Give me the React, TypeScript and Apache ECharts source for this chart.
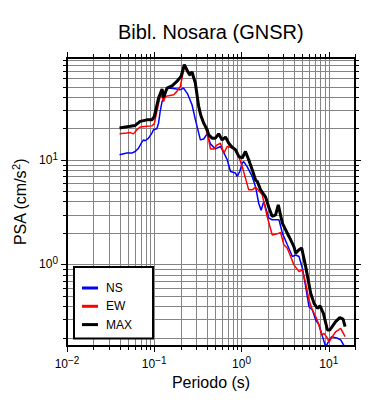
import React, { useEffect, useRef } from 'react';
import * as echarts from 'echarts';

const FONT = 'Liberation Sans, Arial, Helvetica, sans-serif';

const chartTitle = 'Bibl. Nosara (GNSR)';
const xAxisName = 'Periodo (s)';
const yAxisName = 'PSA (cm/s{sup|2})';
const seriesNames = ['NS', 'EW', 'MAX'];
const seriesColors = ['#0000ff', '#ff0000', '#000000'];

// NS component
const nsT = [0.040, 0.0485, 0.0554, 0.0605, 0.066, 0.0723, 0.0754, 0.0788, 0.086, 0.094, 0.098, 0.107, 0.112, 0.117, 0.123, 0.128, 0.134, 0.146, 0.174, 0.199, 0.217, 0.242, 0.271, 0.296, 0.338, 0.369, 0.404, 0.441, 0.502, 0.574, 0.627, 0.686, 0.748, 0.853, 0.893, 0.955, 1.02, 1.06, 1.16, 1.33, 1.45, 1.58, 1.68, 1.80, 2.06, 2.25, 2.69, 2.94, 3.35, 3.83, 4.18, 4.56, 4.99, 5.44, 5.94, 6.50, 7.10, 7.75, 8.48, 9.24, 9.93, 10.8, 12.6, 13.7, 14.8, 15.4];
const nsV = [11.2, 11.6, 11.6, 12.0, 12.9, 14.8, 15.5, 15.2, 16.1, 18.0, 19.4, 19.8, 22.4, 29.0, 36.1, 38.0, 45.0, 48.5, 47.8, 46.8, 48.5, 42.4, 33.6, 24.2, 15.5, 15.8, 17.7, 14.2, 12.7, 13.4, 11.7, 10.0, 7.73, 7.47, 6.92, 7.73, 9.3, 9.6, 8.6, 6.9, 5.5, 3.8, 3.3, 4.0, 2.77, 2.67, 2.67, 1.99, 1.54, 1.19, 1.23, 1.19, 0.92, 0.614, 0.394, 0.367, 0.294, 0.264, 0.204, 0.163, 0.183, 0.204, 0.197, 0.19, 0.17, 0.16];

// EW component
const ewT = [0.040, 0.0485, 0.053, 0.0578, 0.0632, 0.069, 0.0824, 0.094, 0.100, 0.107, 0.112, 0.119, 0.128, 0.134, 0.146, 0.167, 0.182, 0.199, 0.208, 0.221, 0.242, 0.255, 0.271, 0.296, 0.323, 0.353, 0.385, 0.421, 0.441, 0.481, 0.526, 0.574, 0.627, 0.686, 0.781, 0.853, 0.931, 1.02, 1.11, 1.21, 1.33, 1.45, 1.58, 1.73, 1.97, 2.25, 2.57, 2.81, 3.06, 3.35, 3.66, 3.99, 4.56, 4.99, 5.44, 5.94, 6.50, 7.10, 7.62, 8.32, 8.83, 9.42, 10.1, 11.0, 12.0, 13.7, 15.4];
const ewV = [17.7, 18.0, 18.2, 17.7, 19.4, 20.6, 20.9, 21.1, 22.1, 28.8, 34.4, 42.8, 36.1, 40.4, 40.9, 41.9, 45.1, 50.2, 60.5, 78, 68, 63.5, 67, 52.7, 31.8, 24.2, 20.7, 15.5, 12.7, 12.7, 13.9, 14.4, 11.6, 13.4, 13.0, 12.3, 10.7, 8.6, 6.68, 5.16, 5.16, 5.48, 5.05, 4.62, 2.87, 1.91, 1.96, 2.02, 1.54, 1.43, 1.19, 0.99, 0.853, 0.885, 0.661, 0.457, 0.367, 0.316, 0.273, 0.211, 0.219, 0.204, 0.182, 0.204, 0.227, 0.245, 0.204];

// MAX (rotated maximum)
const maxT = [0.040, 0.053, 0.0605, 0.069, 0.0824, 0.094, 0.100, 0.112, 0.123, 0.128, 0.140, 0.160, 0.179, 0.203, 0.221, 0.242, 0.255, 0.271, 0.296, 0.323, 0.340, 0.369, 0.404, 0.421, 0.460, 0.502, 0.548, 0.600, 0.655, 0.715, 0.781, 0.853, 0.931, 1.02, 1.11, 1.21, 1.33, 1.45, 1.52, 1.65, 1.89, 2.06, 2.25, 2.46, 2.64, 2.94, 3.50, 3.99, 4.18, 4.56, 4.90, 5.44, 6.21, 6.78, 7.41, 7.94, 8.69, 9.66, 10.3, 12.0, 13.4, 14.6, 15.4];
const maxV = [20.1, 20.9, 21.3, 23.3, 24.1, 24.1, 25.9, 38.9, 47.5, 39.5, 48.5, 51, 55.5, 62.7, 81, 70, 65, 69, 54, 32.4, 27, 22.4, 19.4, 17.3, 16.1, 16.1, 17.7, 15.5, 16.5, 14.4, 13.2, 12.5, 10.8, 10.4, 12.0, 10.0, 8.0, 6.4, 6.2, 5.2, 4.4, 3.5, 2.87, 2.98, 3.71, 2.48, 1.85, 1.48, 1.28, 1.38, 1.43, 0.953, 0.53, 0.425, 0.381, 0.401, 0.341, 0.236, 0.236, 0.284, 0.31, 0.30, 0.254];

// axis ranges and log grid (mantissa x decade)
const xMin = 0.01;
const xMax = 20;
const yMin = 0.166;
const yMax = 94;
const mantissas = [1, 2, 3, 4, 5, 6, 7, 8, 9];
const xDecades = [0.01, 0.1, 1, 10];
const yDecades = [0.1, 1, 10];

const logGrid = (decades: number[], lo: number, hi: number) => {
  const out: number[] = [];
  decades.forEach((d) => mantissas.forEach((m) => {
    const v = +(m * d).toPrecision(6);
    if (v >= lo * 0.9999 && v <= hi * 1.0001) out.push(v);
  }));
  return out;
};

const isDecade = (v: number) => {
  const l = Math.log10(v);
  return Math.abs(l - Math.round(l)) < 1e-6;
};

const decadeLabel = (v: number) => {
  if (!isDecade(v)) return '';
  const n = Math.round(Math.log10(v));
  return '10{sup|' + (n < 0 ? '\u2212' + -n : String(n)) + '}';
};

const zip = (t: number[], v: number[]) => t.map((x, i) => [x, v[i]]);

export default function App() {
  const ref = useRef<HTMLDivElement>(null);
  useEffect(() => {
    if (!ref.current) return;
    const chart = echarts.init(ref.current, null, { renderer: 'svg' });
    const xGrid = logGrid(xDecades, xMin, xMax);
    const yGrid = logGrid(yDecades, yMin, yMax);
    const gridColor = '#858585';

    const vLines = (params: any, api: any) => {
      const cs = params.coordSys;
      const v = api.value(0);
      const p = api.coord([v, 1]);
      const x = Math.round(p[0]) + 0.5;
      const len = isDecade(v) ? 6 : 4;
      const top = cs.y;
      const bottom = cs.y + cs.height;
      return {
        type: 'group',
        children: [
          { type: 'line', shape: { x1: x, y1: top, x2: x, y2: bottom }, style: { stroke: gridColor, lineWidth: 1 } },
          { type: 'line', shape: { x1: x, y1: top - len, x2: x, y2: top }, style: { stroke: '#000', lineWidth: 1 } },
          { type: 'line', shape: { x1: x, y1: bottom, x2: x, y2: bottom + len }, style: { stroke: '#000', lineWidth: 1 } },
        ],
      };
    };
    const hLines = (params: any, api: any) => {
      const cs = params.coordSys;
      const v = api.value(1);
      const p = api.coord([1, v]);
      const y = Math.round(p[1]) + 0.5;
      const len = isDecade(v) ? 6 : 4;
      const left = cs.x;
      const right = cs.x + cs.width;
      return {
        type: 'group',
        children: [
          { type: 'line', shape: { x1: left, y1: y, x2: right, y2: y }, style: { stroke: gridColor, lineWidth: 1 } },
          { type: 'line', shape: { x1: left - len, y1: y, x2: left, y2: y }, style: { stroke: '#000', lineWidth: 1 } },
          { type: 'line', shape: { x1: right, y1: y, x2: right + len, y2: y }, style: { stroke: '#000', lineWidth: 1 } },
        ],
      };
    };
    const frame = (params: any) => {
      const cs = params.coordSys;
      return {
        type: 'rect',
        shape: { x: cs.x, y: cs.y, width: cs.width, height: cs.height },
        style: { fill: 'none', stroke: '#000', lineWidth: 2 },
      };
    };

    const supRich = { sup: { fontSize: 10, fontFamily: FONT, color: '#000', padding: [0, 0, 7, 0] } };
    const data = [zip(nsT, nsV), zip(ewT, ewV), zip(maxT, maxV)];
    const widths = [1.5, 1.5, 3];

    chart.setOption({
      animation: false,
      backgroundColor: '#fff',
      title: {
        text: chartTitle,
        left: 118,
        top: 22,
        padding: 0,
        textStyle: { fontSize: 20, fontWeight: 'normal', color: '#000', fontFamily: FONT },
      },
      grid: { left: 67, right: 35, top: 58, bottom: 54, containLabel: false },
      legend: {
        data: seriesNames,
        orient: 'vertical',
        left: 74,
        top: 267,
        padding: [14, 21, 7, 8],
        itemGap: 4.3,
        itemWidth: 16,
        itemHeight: 3,
        icon: 'rect',
        backgroundColor: '#fff',
        borderColor: '#000',
        borderWidth: 2,
        borderRadius: 0,
        selectedMode: false,
        z: 10,
        textStyle: { fontSize: 12, color: '#000', fontFamily: FONT, lineHeight: 14, padding: [0, 0, 0, 3] },
      },
      xAxis: {
        type: 'log',
        logBase: 10,
        min: xMin,
        max: xMax,
        axisLine: { show: false },
        axisTick: { show: false },
        splitLine: { show: false },
        axisLabel: {
          interval: 0,
          formatter: decadeLabel,
          margin: 9,
          fontSize: 12,
          color: '#000',
          fontFamily: FONT,
          rich: supRich,
        },
        name: xAxisName,
        nameLocation: 'middle',
        nameGap: 28,
        nameTextStyle: { fontSize: 16, color: '#000', fontFamily: FONT },
      },
      yAxis: {
        type: 'log',
        logBase: 10,
        min: yMin,
        max: yMax,
        axisLine: { show: false },
        axisTick: { show: false },
        splitLine: { show: false },
        axisLabel: {
          interval: 0,
          formatter: decadeLabel,
          margin: 9,
          fontSize: 12,
          color: '#000',
          fontFamily: FONT,
          rich: supRich,
        },
        name: yAxisName,
        nameLocation: 'middle',
        nameRotate: 90,
        nameGap: 35,
        nameTextStyle: {
          fontSize: 16,
          color: '#000',
          fontFamily: FONT,
          rich: { sup: { fontSize: 11, fontFamily: FONT, color: '#000', padding: [0, 0, 8, 0] } },
        },
      },
      series: [
        {
          type: 'custom',
          silent: true,
          z: 1,
          renderItem: vLines,
          data: xGrid.map((v) => [v, 1]),
        },
        {
          type: 'custom',
          silent: true,
          z: 1,
          renderItem: hLines,
          data: yGrid.map((v) => [1, v]),
        },
        ...seriesNames.map((name, i) => ({
          type: 'line',
          name,
          data: data[i],
          symbol: 'none',
          z: 2 + i,
          color: seriesColors[i],
          lineStyle: { color: seriesColors[i], width: widths[i] },
          clip: true,
        })),
        {
          type: 'custom',
          silent: true,
          z: 6,
          renderItem: frame,
          data: [[1, 1]],
        },
      ],
    });
    return () => chart.dispose();
  }, []);
  return <div ref={ref} style={{ position: 'fixed', left: 0, top: 0, width: 390, height: 400 }} />;
}
